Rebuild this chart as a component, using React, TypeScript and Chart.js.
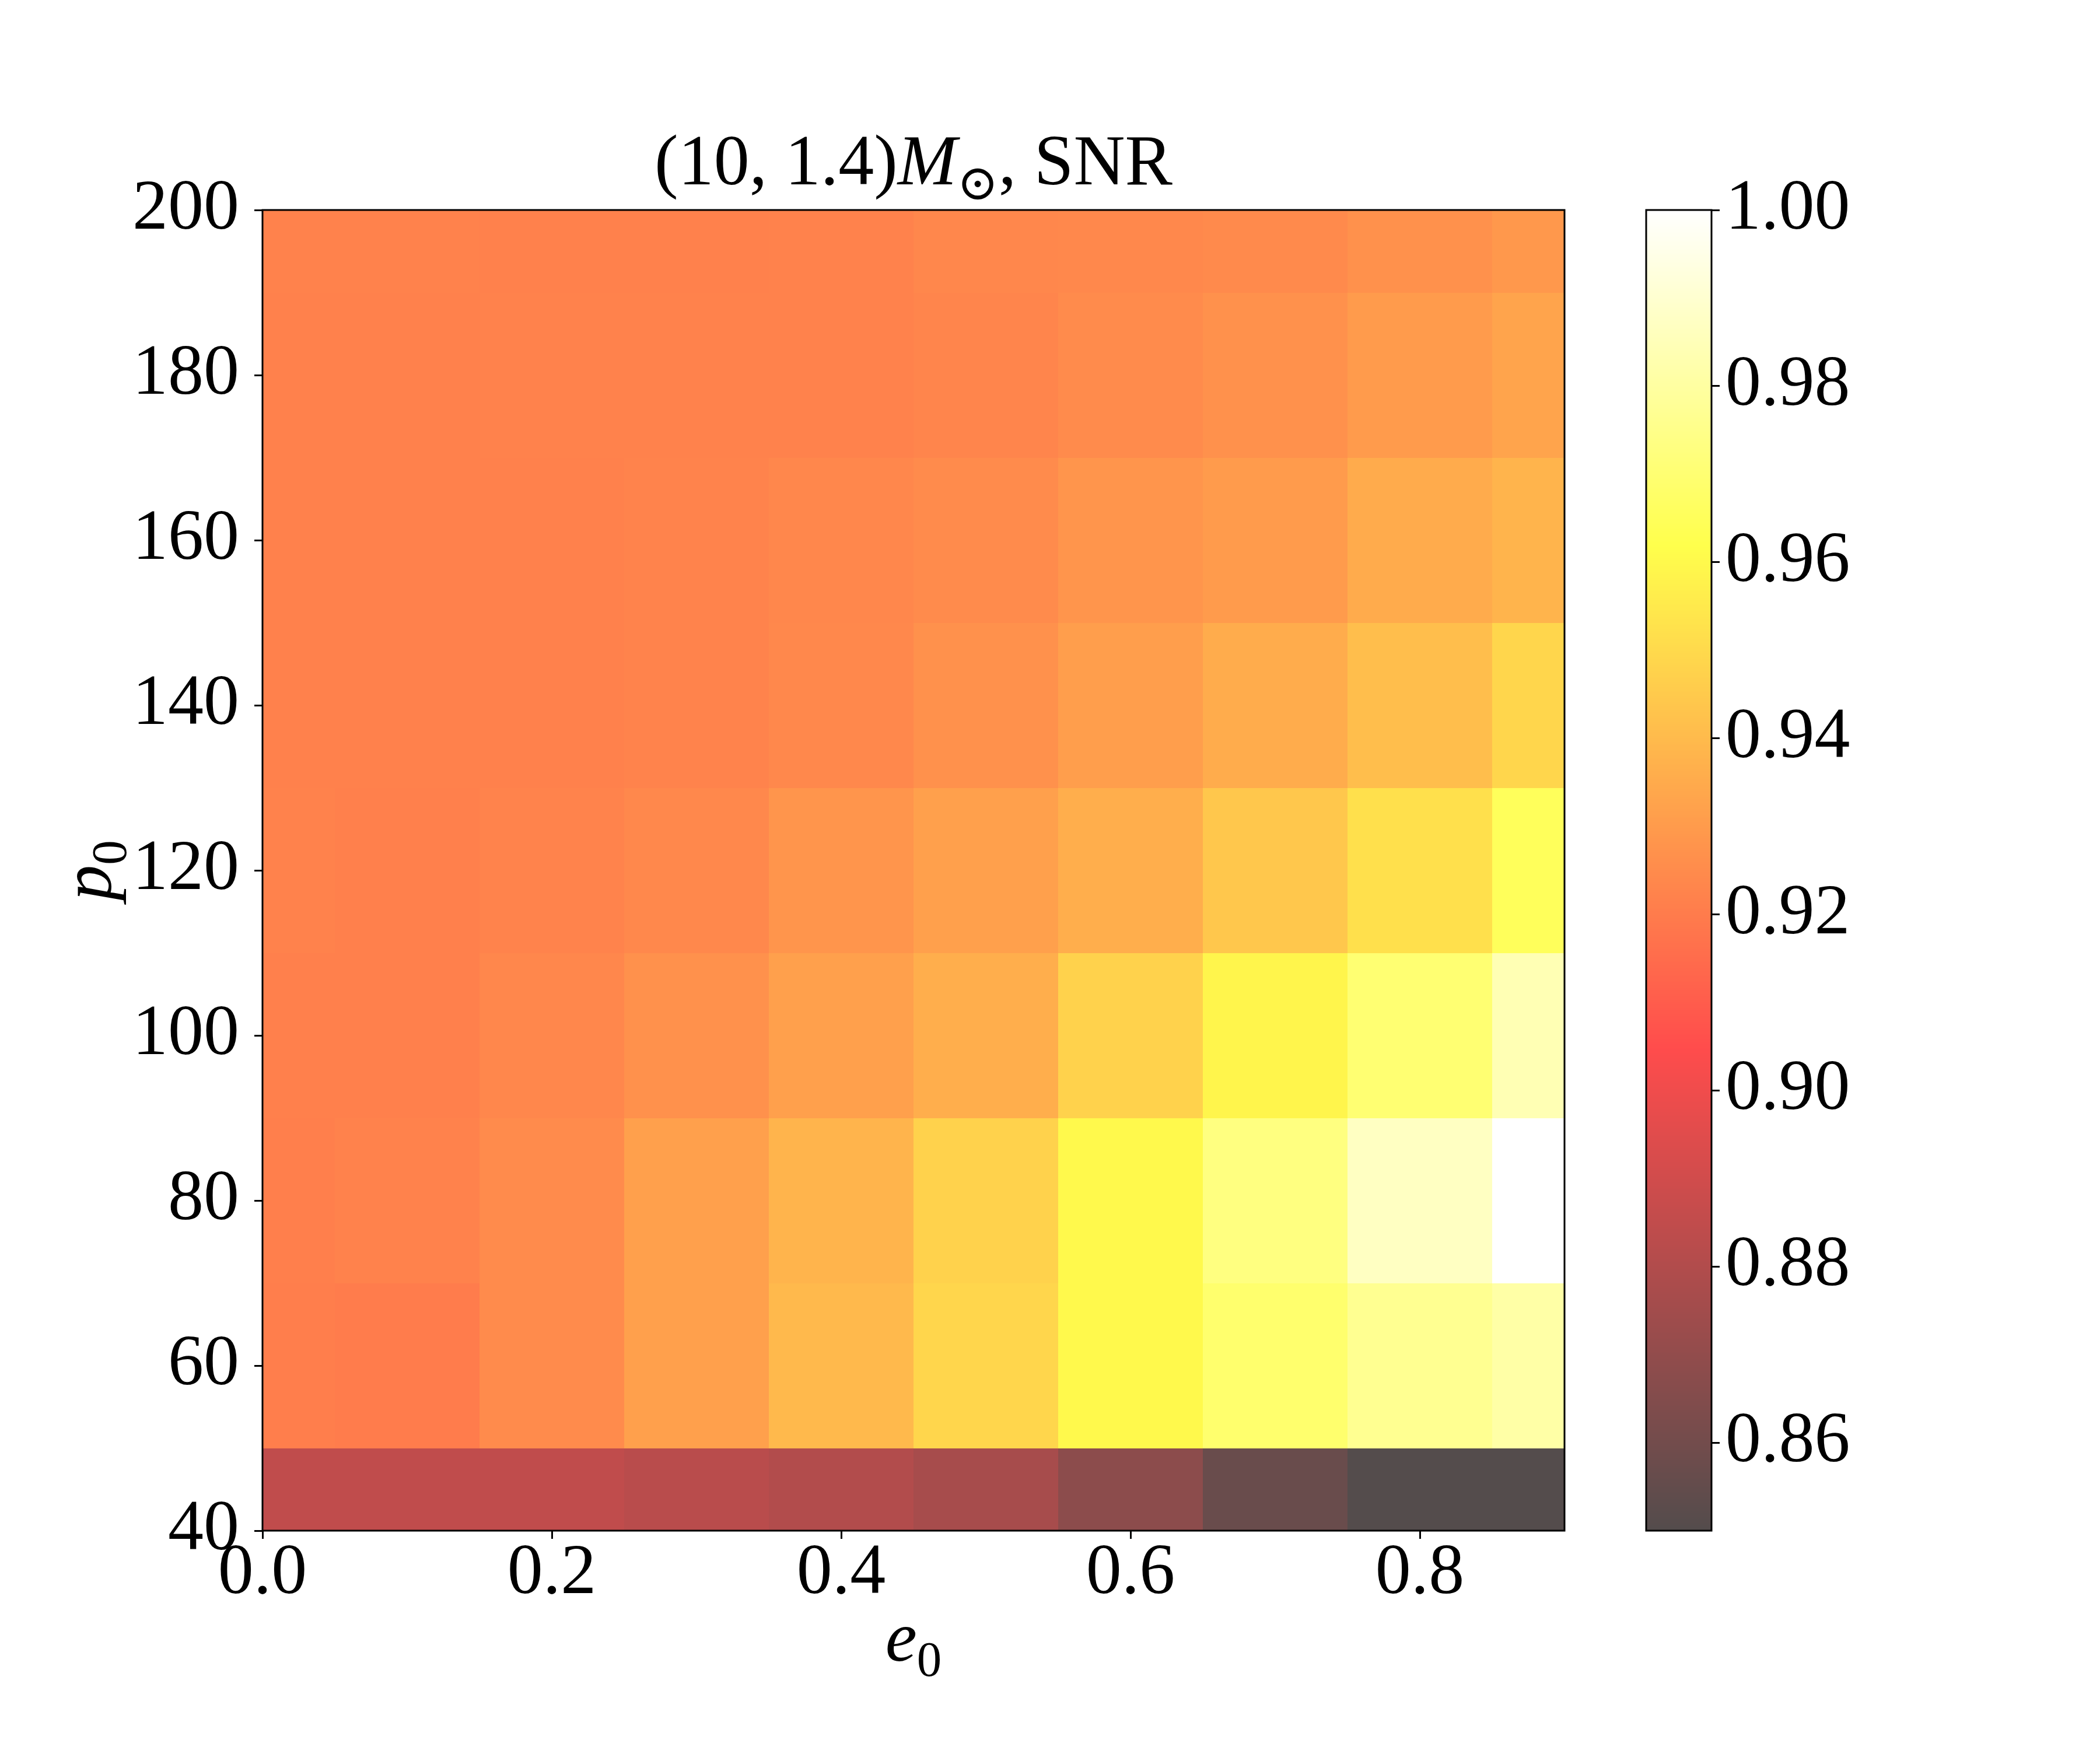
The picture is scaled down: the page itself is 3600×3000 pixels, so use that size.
import React, { useEffect, useRef } from 'react';
import { Chart, registerables } from 'chart.js';
Chart.register(...registerables);

// Grid: eccentricity e0 (columns) and semi-latus rectum p0 (rows)
const E0 = [0.0, 0.1, 0.2, 0.3, 0.4, 0.5, 0.6, 0.7, 0.8, 0.9];
const P0 = [40, 60, 80, 100, 120, 140, 160, 180, 200];

// Normalised SNR values, one array per p0 row
const SNR_P40 = [0.8846, 0.8846, 0.8846, 0.8824, 0.8801, 0.8766, 0.868, 0.8568, 0.8502, 0.85];
const SNR_P60 = [0.9207, 0.9203, 0.925, 0.9315, 0.9395, 0.949, 0.96, 0.969, 0.9765, 0.981];
const SNR_P80 = [0.9212, 0.922, 0.925, 0.9315, 0.938, 0.9475, 0.96, 0.973, 0.987, 1.0];
const SNR_P100 = [0.9213, 0.9213, 0.9235, 0.927, 0.9315, 0.936, 0.9475, 0.9587, 0.97, 0.984];
const SNR_P120 = [0.922, 0.9214, 0.9225, 0.924, 0.928, 0.9315, 0.936, 0.944, 0.952, 0.965];
const SNR_P140 = [0.9215, 0.9215, 0.9218, 0.9225, 0.924, 0.927, 0.931, 0.9355, 0.941, 0.949];
const SNR_P160 = [0.9215, 0.9215, 0.9218, 0.9225, 0.9235, 0.925, 0.928, 0.93, 0.935, 0.938];
const SNR_P180 = [0.9215, 0.9215, 0.922, 0.922, 0.922, 0.923, 0.925, 0.927, 0.93, 0.933];
const SNR_P200 = [0.922, 0.922, 0.9215, 0.9215, 0.922, 0.9235, 0.924, 0.9245, 0.927, 0.929];

const X_TICKS = [0.0, 0.2, 0.4, 0.6, 0.8];
const Y_TICKS = [40, 60, 80, 100, 120, 140, 160, 180, 200];
const CB_TICKS = [0.86, 0.88, 0.9, 0.92, 0.94, 0.96, 0.98, 1.0];
const V_MIN = 0.85;
const V_MAX = 1.0;

const ROWS = [SNR_P40, SNR_P60, SNR_P80, SNR_P100, SNR_P120, SNR_P140, SNR_P160, SNR_P180, SNR_P200];

const FONT = '"Liberation Serif", "DejaVu Serif", serif';
const FS = 122;

function hot(v: number): string {
  let n = (v - V_MIN) / (V_MAX - V_MIN);
  n = Math.max(0, Math.min(1, n));
  const a = 0.365079, b = 0.746032;
  const r = n < a ? 0.0416 + (1 - 0.0416) * n / a : 1;
  const g = n < a ? 0 : n < b ? (n - a) / (b - a) : 1;
  const bl = n < b ? 0 : (n - b) / (1 - b);
  return `rgba(${Math.round(r * 255)},${Math.round(g * 255)},${Math.round(bl * 255)},0.7)`;
}

function edges(c: number[]): number[] {
  const e: number[] = [c[0] - (c[1] - c[0]) / 2];
  for (let i = 0; i < c.length - 1; i++) e.push((c[i] + c[i + 1]) / 2);
  e.push(c[c.length - 1] + (c[c.length - 1] - c[c.length - 2]) / 2);
  return e;
}

const heatPlugin = {
  id: 'heat',
  beforeDatasetsDraw(chart: any) {
    const { ctx, chartArea, scales } = chart;
    const xs = scales.x, ys = scales.y;
    const xe = edges(E0).map((v) => Math.round(xs.getPixelForValue(v)));
    const ye = edges(P0).map((v) => Math.round(ys.getPixelForValue(v)));
    ctx.save();
    ctx.beginPath();
    ctx.rect(chartArea.left, chartArea.top, chartArea.right - chartArea.left, chartArea.bottom - chartArea.top);
    ctx.clip();
    for (let i = 0; i < P0.length; i++) {
      for (let j = 0; j < E0.length; j++) {
        ctx.fillStyle = hot(ROWS[i][j]);
        const x0 = xe[j], x1 = xe[j + 1];
        const y0 = ye[i + 1], y1 = ye[i];
        ctx.fillRect(x0, y0, x1 - x0, y1 - y0);
      }
    }
    ctx.restore();
  },
  afterDraw(chart: any) {
    const { ctx, chartArea } = chart;
    ctx.save();
    ctx.strokeStyle = '#000';
    ctx.lineWidth = 3;
    ctx.strokeRect(chartArea.left, chartArea.top, chartArea.right - chartArea.left, chartArea.bottom - chartArea.top);
    ctx.fillStyle = '#000';
    ctx.textBaseline = 'alphabetic';
    ctx.textAlign = 'left';
    // Title: (10, 1.4)M_⊙, SNR
    const up = `${FS}px ${FONT}`;
    const it = `italic ${FS}px ${FONT}`;
    const sub = `${Math.round(FS * 0.7)}px ${FONT}`;
    const parts = [
      { t: '(10, 1.4)', f: up, dy: 0 },
      { t: 'M', f: it, dy: 0 },
      { t: '\u2299', f: sub, dy: 26 },
      { t: ', SNR', f: up, dy: 0 },
    ];
    let total = 0;
    const widths = parts.map((p) => { ctx.font = p.f; const w = ctx.measureText(p.t).width; total += w; return w; });
    const cx = (chartArea.left + chartArea.right) / 2;
    let x = cx - total / 2;
    parts.forEach((p, k) => { ctx.font = p.f; ctx.fillText(p.t, x, 316 + p.dy); x += widths[k]; });
    // x label e_0
    ctx.font = it;
    const we = ctx.measureText('e').width;
    ctx.font = sub;
    const w0 = ctx.measureText('0').width;
    const lx = cx - (we + w0) / 2;
    ctx.font = it; ctx.fillText('e', lx, 2847);
    ctx.font = sub; ctx.fillText('0', lx + we, 2847 + 26);
    // y label p_0
    ctx.save();
    ctx.translate(190, (chartArea.top + chartArea.bottom) / 2);
    ctx.rotate(-Math.PI / 2);
    ctx.font = it;
    const wp = ctx.measureText('p').width;
    const ly = -(wp + w0) / 2;
    ctx.fillText('p', ly, 0);
    ctx.font = sub; ctx.fillText('0', ly + wp, 26);
    ctx.restore();
    ctx.restore();
  },
};

const cbPlugin = {
  id: 'cbar',
  beforeDatasetsDraw(chart: any) {
    const { ctx, chartArea, scales } = chart;
    const ys = scales.y;
    ctx.save();
    for (let py = Math.floor(chartArea.top); py < chartArea.bottom; py++) {
      const v = ys.getValueForPixel(py + 0.5);
      ctx.fillStyle = hot(v);
      ctx.fillRect(chartArea.left, py, chartArea.right - chartArea.left, 1);
    }
    ctx.strokeStyle = '#000';
    ctx.lineWidth = 3;
    ctx.strokeRect(chartArea.left, chartArea.top, chartArea.right - chartArea.left, chartArea.bottom - chartArea.top);
    ctx.restore();
  },
};

const tickFont = { family: FONT, size: FS };

export default function App() {
  const mainRef = useRef<HTMLCanvasElement>(null);
  const cbRef = useRef<HTMLCanvasElement>(null);
  useEffect(() => {
    const points: any[] = [];
    P0.forEach((p, i) => E0.forEach((e, j) => points.push({ x: e, y: p, v: ROWS[i][j] })));
    const main = new Chart(mainRef.current as HTMLCanvasElement, {
      type: 'scatter',
      data: { datasets: [{ data: points, pointRadius: 0, pointHoverRadius: 0 }] },
      options: {
        animation: false,
        responsive: false,
        devicePixelRatio: 1,
        layout: { padding: { left: 0, top: 360, right: 918, bottom: 0 } },
        plugins: { legend: { display: false }, tooltip: { enabled: false }, title: { display: false } },
        scales: {
          x: {
            type: 'linear', min: 0, max: 0.9,
            afterBuildTicks: (s: any) => { s.ticks = X_TICKS.map((v) => ({ value: v })); },
            afterFit: (s: any) => { s.height = 376; },
            ticks: { font: tickFont, color: '#000', padding: -12, maxRotation: 0, autoSkip: false, callback: (v: any) => Number(v).toFixed(1) },
            grid: { drawOnChartArea: false, drawTicks: true, tickLength: 14, tickWidth: 3, tickColor: '#000' },
            border: { display: false },
          },
          y: {
            type: 'linear', min: 40, max: 200,
            afterBuildTicks: (s: any) => { s.ticks = Y_TICKS.map((v) => ({ value: v })); },
            afterFit: (s: any) => { s.width = 450; },
            ticks: { font: tickFont, color: '#000', padding: 26, autoSkip: false, callback: (v: any) => String(v) },
            grid: { drawOnChartArea: false, drawTicks: true, tickLength: 14, tickWidth: 3, tickColor: '#000' },
            border: { display: false },
          },
        },
      },
      plugins: [heatPlugin],
    } as any);
    const cb = new Chart(cbRef.current as HTMLCanvasElement, {
      type: 'scatter',
      data: { datasets: [{ data: [], pointRadius: 0 }] },
      options: {
        animation: false,
        responsive: false,
        devicePixelRatio: 1,
        layout: { padding: { left: 2822, top: 360, right: 0, bottom: 376 } },
        plugins: { legend: { display: false }, tooltip: { enabled: false } },
        scales: {
          x: { type: 'linear', min: 0, max: 1, display: false },
          y: {
            type: 'linear', position: 'right', min: V_MIN, max: V_MAX,
            afterBuildTicks: (s: any) => { s.ticks = CB_TICKS.map((v) => ({ value: v })); },
            afterFit: (s: any) => { s.width = 666; },
            ticks: { font: tickFont, color: '#000', padding: 10, autoSkip: false, callback: (v: any) => Number(v).toFixed(2) },
            grid: { drawOnChartArea: false, drawTicks: true, tickLength: 14, tickWidth: 3, tickColor: '#000' },
            border: { display: false },
          },
        },
      },
      plugins: [cbPlugin],
    } as any);
    return () => { main.destroy(); cb.destroy(); };
  }, []);
  return (
    <div style={{ position: 'absolute', left: 0, top: 0, width: 3600, height: 3000, background: '#fff' }}>
      <canvas ref={mainRef} width={3600} height={3000} style={{ position: 'absolute', left: 0, top: 0, width: 3600, height: 3000 }} />
      <canvas ref={cbRef} width={3600} height={3000} style={{ position: 'absolute', left: 0, top: 0, width: 3600, height: 3000 }} />
    </div>
  );
}
